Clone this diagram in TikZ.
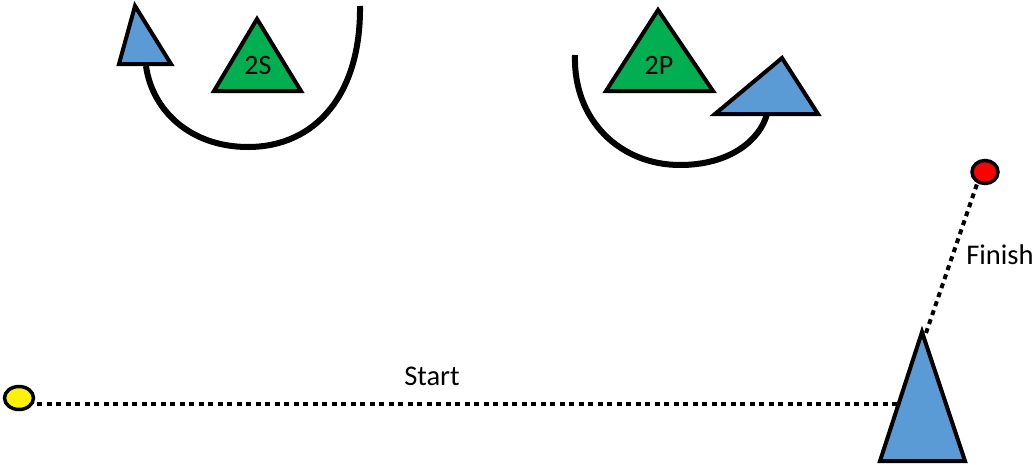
\documentclass[tikz,border=0pt]{standalone}
\usepackage{fontspec}
\setmainfont{Carlito}
\definecolor{tblue}{HTML}{5B9BD5}
\definecolor{tgreen}{HTML}{00B050}
\tikzset{
  x=1pt, y=-1pt,
  tri/.style={draw=black, line width=4pt, line join=miter},
  bluetri/.style={tri, fill=tblue},
  greentri/.style={tri, fill=tgreen},
  dot/.style={draw=black, line width=3.5pt},
  dotline/.style={line width=4pt, dash pattern=on 5pt off 4.5pt},
  turn/.style={line width=6pt},
  lbl/.style={font=\fontsize{28.5}{32}\selectfont, inner sep=0pt}
}
\begin{document}
\begin{tikzpicture}
\useasboundingbox (0,0) rectangle (1036,466);
% start and finish points
\draw[dot, fill=yellow] (19,398) ellipse [x radius=14.5, y radius=11.5];
\node[inner sep=0pt, minimum size=0pt] (start) at (37,404) {};
\draw[dot, fill=red] (985,172) ellipse [x radius=13, y radius=11.5];
\coordinate (fin) at (977,184);
% big triangle
\coordinate (B1) at (922,332);
\coordinate (B2) at (880,461);
\coordinate (B3) at (965,461);
\coordinate (Bl) at (898,404);
\draw[dotline] (start) -- (Bl);
\draw[dotline] (926,333) -- (fin);
\filldraw[bluetri] (B1) -- (B2) -- (B3) -- cycle;
\node[lbl] (startlbl) at (432,376) {Start};
\node[lbl] (finlbl) at (1000,255) {Finish};
% 2S
\filldraw[greentri] (257,19) -- (214,91) -- (301,91) -- cycle;
\node[lbl, font=\fontsize{28}{30}\selectfont] (s2) at (258,66) {2S};
\filldraw[bluetri] (135,6) -- (119,64) -- (171,64) -- cycle;
\coordinate (s2a) at (360,6);
\coordinate (s2b) at (146,66);
\draw[turn] (s2a) .. controls (361,95) and (315,147) .. (248,147)
  .. controls (190,147) and (152,110) .. (s2b);
% 2P
\filldraw[greentri] (658,10) -- (606,91) -- (713,91) -- cycle;
\node[lbl, font=\fontsize{28}{30}\selectfont] (p2) at (659,65) {2P};
\filldraw[bluetri] (782,58) -- (715,114) -- (818,114) -- cycle;
\coordinate (p2a) at (575,55);
\coordinate (p2b) at (767,114);
\draw[turn] (p2a) .. controls (573,120) and (620,165) .. (680,165)
  .. controls (730,165) and (760,140) .. (p2b);
\end{tikzpicture}
\end{document}
